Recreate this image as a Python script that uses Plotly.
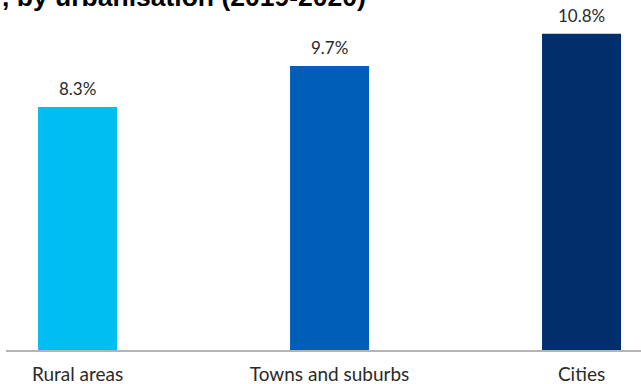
import plotly.graph_objects as go

# Share by degree of urbanisation
categories = ["Rural areas", "Towns and suburbs", "Cities"]
values = [8.3, 9.7, 10.8]
bar_colors = ["#00BEF2", "#005EB8", "#002F6C"]
title_text = ", by urbanisation (2019-2020)"

fig = go.Figure()
fig.add_trace(go.Bar(
    x=categories,
    y=values,
    marker=dict(color=bar_colors, line=dict(width=0)),
    width=79 / 252,
    hoverinfo="skip",
))

# Value labels above each bar
for cat, val in zip(categories, values):
    fig.add_annotation(
        x=cat, y=val, xref="x", yref="y",
        text=f"{val}%", showarrow=False,
        yanchor="bottom", yshift=6,
        font=dict(family="Lato", size=17, color="#2a2a2a"),
    )

# Chart title (runs off the top of the canvas)
fig.add_annotation(
    x=0, y=1, xref="paper", yref="paper",
    xanchor="left", yanchor="bottom",
    xshift=-6, yshift=-14,
    text=f"<b>{title_text}</b>", showarrow=False,
    font=dict(family="Liberation Sans", size=26.5, color="#000000"),
)

fig.update_layout(
    width=641, height=384,
    margin=dict(l=6, r=0, t=0, b=34),
    plot_bgcolor="white", paper_bgcolor="white",
    showlegend=False,
)
fig.update_xaxes(
    range=[-0.284, 2.236],
    showline=True, linecolor="#b4b4b4", linewidth=1.5,
    showgrid=False, ticks="", ticklabelstandoff=6,
    tickfont=dict(family="Lato", size=19, color="#2a2a2a"),
)
fig.update_yaxes(
    range=[0, 350 / 29.28],
    visible=False, showgrid=False, zeroline=False,
)

fig.write_html("out.html")
